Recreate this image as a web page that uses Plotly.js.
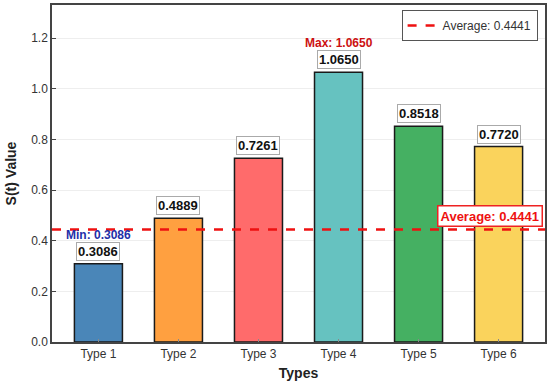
<!DOCTYPE html>
<html>
<head>
<meta charset="utf-8">
<script src="https://cdn.plot.ly/plotly-3.0.1.min.js"></script>
<style>html,body{margin:0;padding:0;background:#fff;}#chart{width:550px;height:390px;}</style>
</head>
<body>
<div id="chart"></div>
<script>
const categories = ["Type 1", "Type 2", "Type 3", "Type 4", "Type 5", "Type 6"];
const values = [0.3086, 0.4889, 0.7261, 1.0650, 0.8518, 0.7720];
const barColors = ["#4a86b8", "#ffa040", "#ff6b6b", "#66c2c0", "#45b062", "#fad35c"];
const averageValue = 0.4441;
const yTicks = [0.0, 0.2, 0.4, 0.6, 0.8, 1.0, 1.2];

const maxVal = Math.max(...values);
const minVal = Math.min(...values);
const maxIdx = values.indexOf(maxVal);
const minIdx = values.indexOf(minVal);

const font = "Liberation Sans, Arial, sans-serif";

const annotations = values.map((v, i) => ({
  x: categories[i], y: v, xref: 'x', yref: 'y',
  text: '<b>' + v.toFixed(4) + '</b>',
  showarrow: false, yanchor: 'bottom', yshift: 3,
  font: {family: font, size: 13, color: '#111'},
  bgcolor: '#ffffff', bordercolor: '#aaaaaa', borderwidth: 1, borderpad: 1
}));
annotations.push({
  x: categories[maxIdx], y: maxVal, xref: 'x', yref: 'y',
  text: '<b>Max: ' + maxVal.toFixed(4) + '</b>',
  showarrow: false, yanchor: 'bottom', yshift: 20,
  font: {family: font, size: 12, color: '#cc1111'}
});
annotations.push({
  x: categories[minIdx], y: minVal, xref: 'x', yref: 'y',
  text: '<b>Min: ' + minVal.toFixed(4) + '</b>',
  showarrow: false, yanchor: 'bottom', yshift: 20,
  font: {family: font, size: 12, color: '#1f2fa8'}
});
annotations.push({
  x: 0.995, y: averageValue, xref: 'paper', yref: 'y',
  text: '<b>Average: ' + averageValue.toFixed(4) + '</b>',
  showarrow: false, xanchor: 'right', yanchor: 'bottom', yshift: 3,
  font: {family: font, size: 13, color: '#ee1111'},
  bgcolor: '#ffffff', bordercolor: '#ee2222', borderwidth: 1.5, borderpad: 2
});

const data = [{
  type: 'bar', x: categories, y: values, width: 0.6,
  marker: {color: barColors, line: {color: '#1a1a1a', width: 1.5}},
  showlegend: false, hoverinfo: 'x+y'
}];

const layout = {
  width: 550, height: 390,
  margin: {l: 52, r: 5, t: 5, b: 48},
  paper_bgcolor: '#fff', plot_bgcolor: '#fff',
  font: {family: font, size: 12, color: '#333'},
  xaxis: {
    range: [-0.58, 5.58], showline: true, mirror: true, linecolor: '#444', linewidth: 1.5,
    ticks: 'inside', ticklen: 3, tickcolor: '#888', showgrid: false,
    tickfont: {family: font, size: 12, color: '#333'},
    title: {text: '<b>Types</b>', font: {family: font, size: 14, color: '#222'}, standoff: 8}
  },
  yaxis: {
    range: [0, 1.331], tickvals: yTicks, ticktext: yTicks.map(t => t.toFixed(1)),
    showline: true, mirror: true, linecolor: '#444', linewidth: 1.5,
    ticks: 'inside', ticklen: 4, tickcolor: '#444',
    showgrid: true, gridcolor: '#eeeeee', gridwidth: 1, zeroline: false,
    tickfont: {family: font, size: 12, color: '#333'},
    title: {text: '<b>S(t) Value</b>', font: {family: font, size: 14, color: '#222'}, standoff: 11}
  },
  shapes: [{
    type: 'line', xref: 'paper', yref: 'y', x0: 0, x1: 1, y0: averageValue, y1: averageValue,
    line: {color: '#ee1111', width: 2.5, dash: 'dash'},
    showlegend: true, name: 'Average: ' + averageValue.toFixed(4)
  }],
  legend: {
    x: 0.985, y: 0.985, xanchor: 'right', yanchor: 'top',
    bgcolor: '#ffffff', bordercolor: '#555', borderwidth: 1,
    font: {family: font, size: 12, color: '#333'}
  },
  showlegend: true,
  annotations: annotations
};

Plotly.newPlot('chart', data, layout, {displayModeBar: false});
</script>
</body>
</html>
